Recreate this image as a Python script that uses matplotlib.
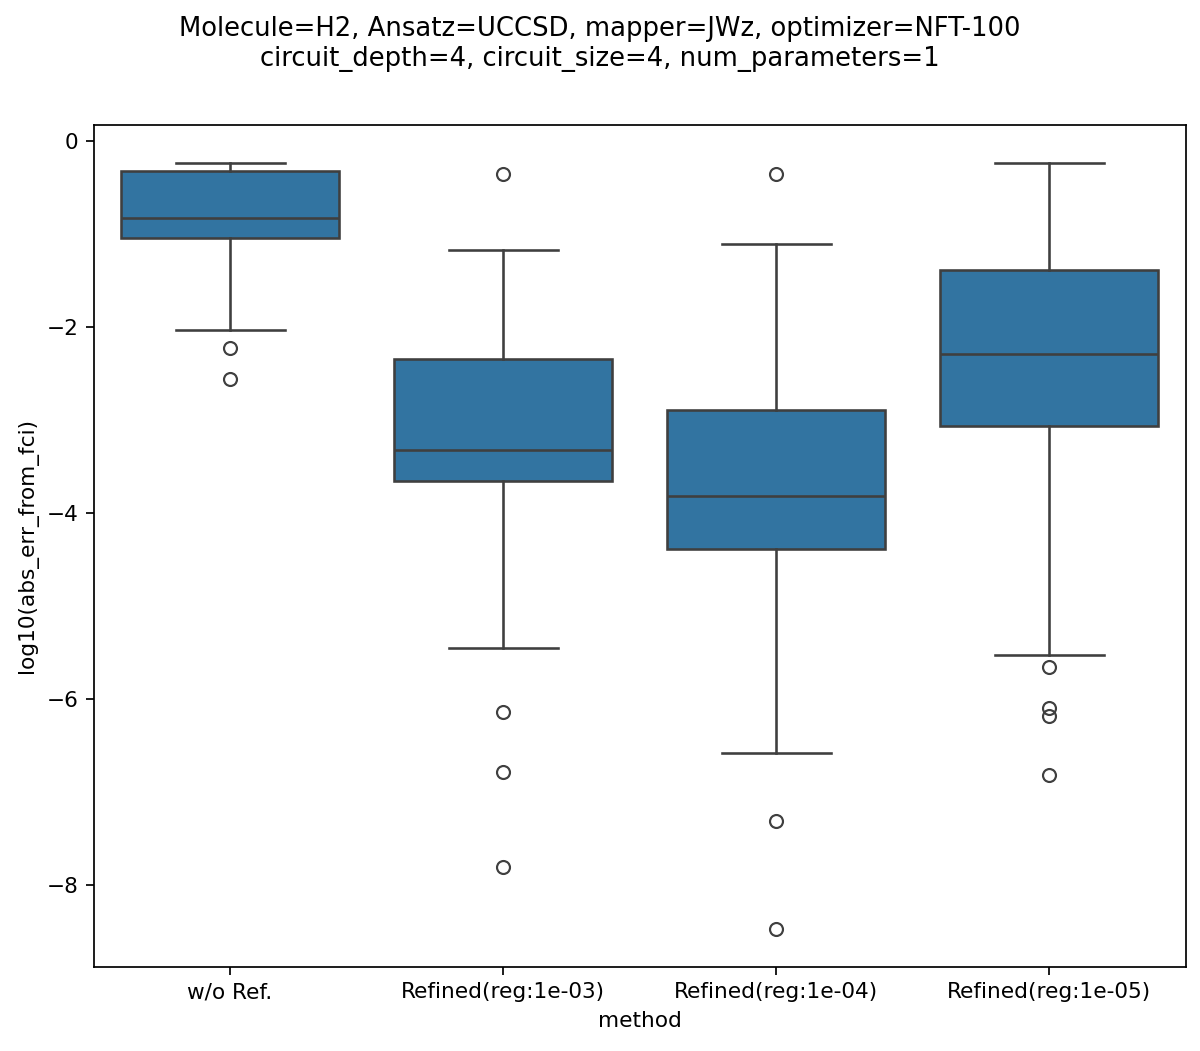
import matplotlib
matplotlib.use("Agg")
import matplotlib.pyplot as plt

methods = ["w/o Ref.", "Refined(reg:1e-03)", "Refined(reg:1e-04)", "Refined(reg:1e-05)"]
whisker_low = [-2.03, -5.45, -6.58, -5.53]
q1 = [-1.04, -3.65, -4.39, -3.06]
median = [-0.82, -3.32, -3.82, -2.29]
q3 = [-0.32, -2.34, -2.89, -1.38]
whisker_high = [-0.237, -1.17, -1.10, -0.237]
fliers = [
    [-2.22, -2.56],
    [-0.355, -6.14, -6.78, -7.81],
    [-0.355, -7.31, -8.47],
    [-5.65, -6.09, -6.18, -6.82],
]

title = ("Molecule=H2, Ansatz=UCCSD, mapper=JWz, optimizer=NFT-100\n"
         "circuit_depth=4, circuit_size=4, num_parameters=1")

DPI = 155.4
fig, ax = plt.subplots(figsize=(1200 / DPI, 1051 / DPI), dpi=DPI)
fig.subplots_adjust(left=0.078, right=0.988, top=0.881, bottom=0.080)

stats = []
for i, m in enumerate(methods):
    stats.append(dict(label=m, whislo=whisker_low[i], q1=q1[i], med=median[i],
                      q3=q3[i], whishi=whisker_high[i], fliers=fliers[i]))

lc = "#3f3f3f"
lw = 1.2
ax.bxp(stats, positions=range(len(methods)), widths=0.8, patch_artist=True,
       boxprops=dict(facecolor="#3274a1", edgecolor=lc, linewidth=lw),
       medianprops=dict(color=lc, linewidth=lw),
       whiskerprops=dict(color=lc, linewidth=lw),
       capprops=dict(color=lc, linewidth=lw),
       capwidths=0.4,
       flierprops=dict(marker="o", markerfacecolor="none", markeredgecolor=lc,
                       markersize=6, markeredgewidth=1.0))

ax.set_xlim(-0.5, len(methods) - 0.5)
ax.set_ylim(-8.88, 0.175)
ax.set_xticks(range(len(methods)))
ax.set_xticklabels(methods)
ax.set_yticks([0, -2, -4, -6, -8])
ax.set_xlabel("method")
ax.set_ylabel("log10(abs_err_from_fci)")
fig.suptitle(title, fontsize=12, y=0.985)

fig.savefig("out.png", dpi=DPI)
